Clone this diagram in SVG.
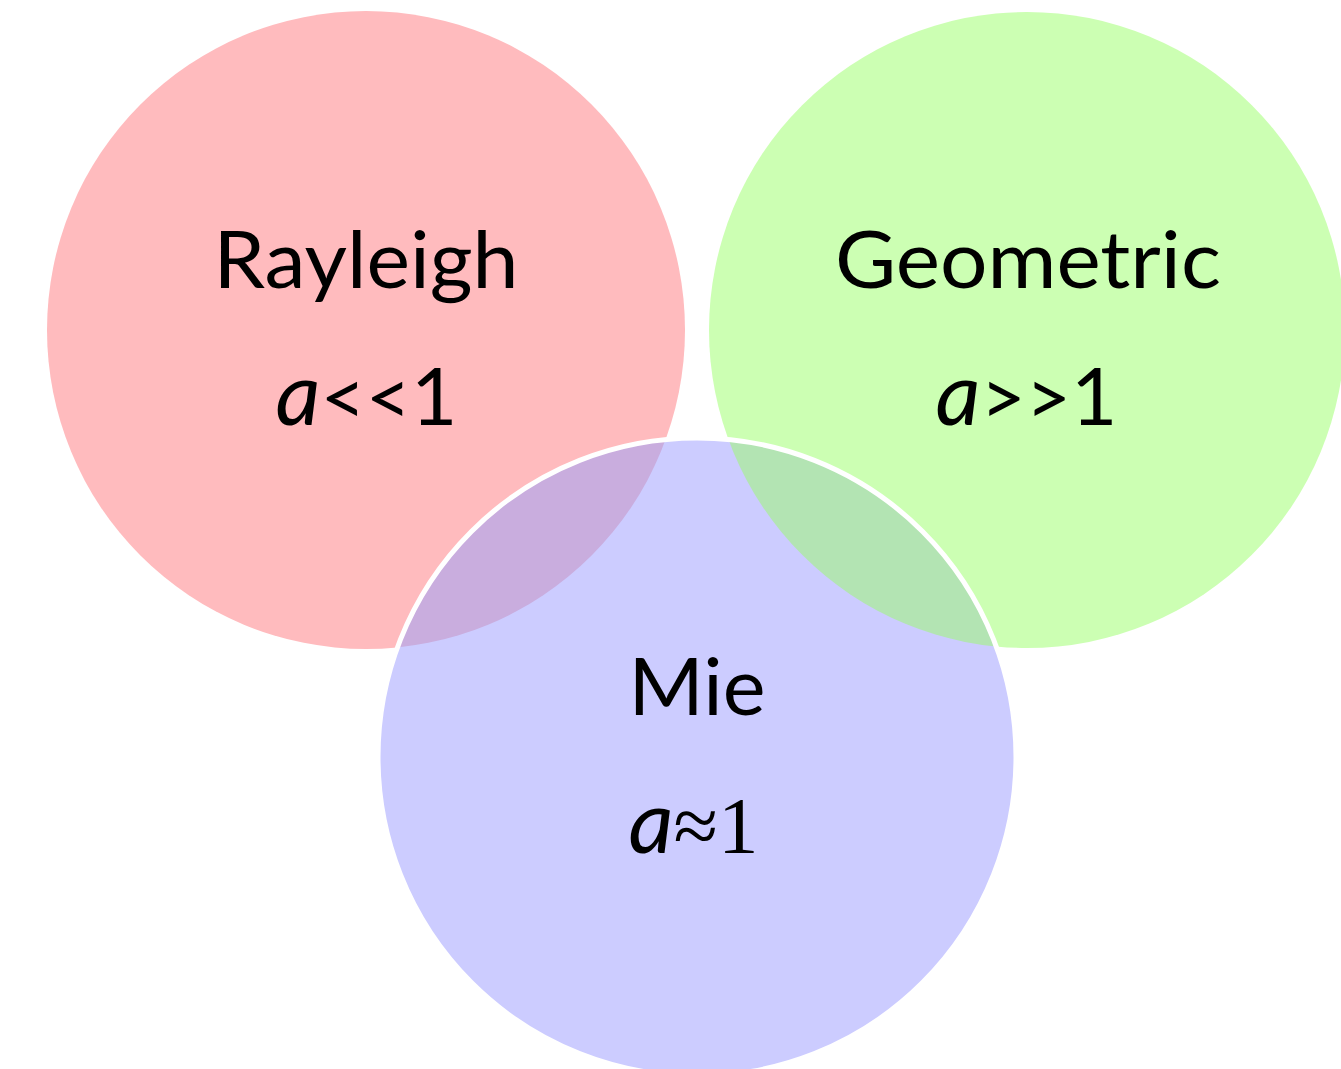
<svg xmlns="http://www.w3.org/2000/svg" width="1341" height="1069" viewBox="0 0 1341 1069">
<style>
.lbl{font-family:Lato,"Open Sans","Liberation Sans",sans-serif;font-size:80px;fill:#000;text-anchor:middle}
.it{font-style:italic;font-size:88px}
.op{font-size:78px}
.math{font-family:"Liberation Serif","DejaVu Serif",serif;font-style:normal;font-size:81px}
</style>
<defs>
<clipPath id="clipRed"><circle cx="366" cy="330" r="319"/></clipPath>
<clipPath id="clipGreen"><circle cx="1027" cy="330" r="318"/></clipPath>
</defs>
<rect width="1341" height="1069" fill="#fff"/>
<g id="rayleigh">
<circle cx="366" cy="330" r="319" fill="#FFBBBE"/>
<text class="lbl" x="366" y="288" textLength="305" lengthAdjust="spacingAndGlyphs">Rayleigh</text>
<text class="lbl" x="366.5" y="425"><tspan class="it">a</tspan><tspan class="op">&lt;&lt;</tspan>1</text>
</g>
<g id="geometric">
<circle cx="1027" cy="330" r="318" fill="#CCFFB3"/>
<text class="lbl" x="1028" y="288" textLength="386" lengthAdjust="spacingAndGlyphs">Geometric</text>
<text class="lbl" x="1026.5" y="425"><tspan class="it">a</tspan><tspan class="op">&gt;&gt;</tspan>1</text>
</g>
<g id="mie">
<circle cx="697" cy="757" r="319" fill="#CCCCFF"/>
<circle cx="697" cy="757" r="319" fill="#C9ADDE" clip-path="url(#clipRed)"/>
<circle cx="697" cy="757" r="319" fill="#B3E4B3" clip-path="url(#clipGreen)"/>
<circle cx="697" cy="757" r="319" fill="none" stroke="#fff" stroke-width="5"/>
<text class="lbl" x="697" y="715" textLength="137" lengthAdjust="spacingAndGlyphs">Mie</text>
<text class="lbl" x="693.5" y="853"><tspan class="it">a</tspan><tspan class="math">≈1</tspan></text>
</g>
<g id="connectors"/>
</svg>
